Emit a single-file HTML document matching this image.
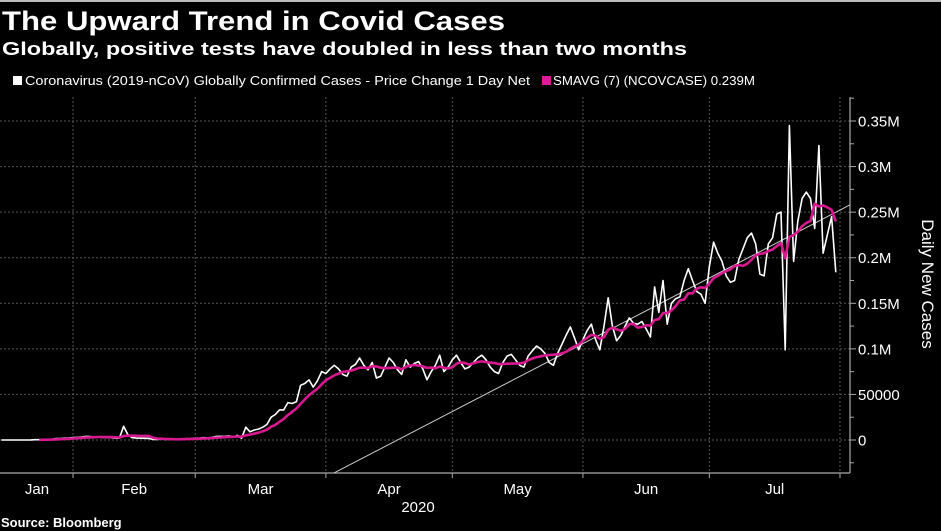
<!DOCTYPE html>
<html><head><meta charset="utf-8"><style>
html,body{margin:0;padding:0;background:#000;}
svg{display:block;font-family:"Liberation Sans","DejaVu Sans",sans-serif;}
</style></head><body>
<svg id="chart" width="941" height="531" viewBox="0 0 941 531">
<rect x="0" y="0" width="941" height="531" fill="#000"/>
<rect x="0" y="0" width="941" height="2" fill="#bbb"/>
<text x="2" y="30" fill="#fff" font-size="27" font-weight="bold" textLength="503" lengthAdjust="spacingAndGlyphs">The Upward Trend in Covid Cases</text>
<text x="2" y="55" fill="#fff" font-size="18" font-weight="bold" textLength="685" lengthAdjust="spacingAndGlyphs">Globally, positive tests have doubled in less than two months</text>
<g>
<rect x="13" y="76" width="9" height="9" fill="#fff"/>
<text x="25" y="85" fill="#fff" font-size="12.5" textLength="505" lengthAdjust="spacingAndGlyphs">Coronavirus (2019-nCoV) Globally Confirmed Cases - Price Change 1 Day Net</text>
<rect x="542" y="76" width="9" height="9" fill="#e0189a"/>
<text x="553" y="85" fill="#fff" font-size="12.5" textLength="202" lengthAdjust="spacingAndGlyphs">SMAVG (7) (NCOVCASE) 0.239M</text>
</g>
<g id="grid"></g>
<g id="axes"></g>
<g id="series"></g>
<text x="1" y="527" fill="#fff" font-size="13" font-weight="bold">Source: Bloomberg</text>
</svg>
<script>
// data: daily new cases (thousands), starting at day index 14 (Jan 14, 2020; Jan 1 = day 0)
const startDay = 14;
const dailyCases = [
0,0,0,0,0,0,0,
0.1,0.3,0.3,0.7,0.7,0.8,1.5,1.7,2,2.1,
2.6,2.8,3.2,3.9,3.7,3.2,3.4,2.7,3,2.5,2,2.1,15,6,2.6,2.1,2,1.9,1.8,0.5,0.6,1,0.6,0.9,0.8,0.9,1.2,1.4,1.7,
2,2,2.5,2.3,2.8,4,3.9,4,4.5,3,5,2,14,9,11,12,14,17,25,28,33,33,41,40,42,60,62,66,58,65,75,
73,78,82,78,72,70,80,83,90,82,77,85,68,70,80,90,85,77,72,88,80,84,86,78,66,75,82,93,75,80,
88,93,85,78,80,85,90,93,88,80,75,73,85,92,94,88,82,80,92,98,103,100,95,85,82,95,105,115,124,112,99,
110,120,127,110,99,125,156,125,109,115,125,134,128,127,130,122,113,168,140,175,127,150,155,157,175,188,175,163,160,150,
190,217,205,196,180,173,175,198,210,222,227,215,182,180,215,222,248,250,99,345,196,240,265,272,265,232,323,205,225,245,184
];
const trendDays = [93, 215.4];
const trendValues = [-36, 258];
const monthNames = ["Jan","Feb","Mar","Apr","May","Jun","Jul"];
const monthStarts = [0,31,60,91,121,152,182,213];
const yTicks = [0,50,100,150,200,250,300,350];
const yTickLabels = ["0","50000","0.1M","0.15M","0.2M","0.25M","0.3M","0.35M"];

const NS = "http://www.w3.org/2000/svg";
const plotTop = 97, plotBottom = 473, plotRight = 850;
const xScale = d => -57.6 + 4.214 * d;
const yScale = v => 440 - v * (319 / 350);
function mk(tag, attrs, parent) {
  const e = document.createElementNS(NS, tag);
  for (const k in attrs) e.setAttribute(k, attrs[k]);
  parent.appendChild(e);
  return e;
}
const grid = document.getElementById('grid');
const axes = document.getElementById('axes');
const series = document.getElementById('series');

yTicks.forEach((v, i) => {
  const y = yScale(v);
  const gl = mk('line', {x1:0, x2:plotRight, y1:y, y2:y, stroke:'#555', 'stroke-width':1, 'stroke-dasharray':'2,2'}, grid);
  
  
  const tk = mk('line', {x1:plotRight, x2:plotRight+6, y1:y, y2:y, stroke:'#aaa', 'stroke-width':1}, axes);
  
  
  const mt = mk('line', {x1:plotRight, x2:plotRight+4, y1:yScale(v+25), y2:yScale(v+25), stroke:'#aaa', 'stroke-width':1}, axes);
  
  
  const t = mk('text', {x:plotRight+8, y:y+5.5, fill:'#fff', 'font-size':15}, axes);
  t.textContent = yTickLabels[i];
  
  
});
const mt0 = mk('line', {x1:plotRight, x2:plotRight+4, y1:yScale(-25), y2:yScale(-25), stroke:'#aaa'}, axes);



monthStarts.forEach((d, i) => {
  const x = xScale(d);
  if (i > 0) {
    const gl = mk('line', {x1:x, x2:x, y1:plotTop, y2:plotBottom, stroke:'#555', 'stroke-width':1, 'stroke-dasharray':'2,2'}, grid);
    
    
    const tk = mk('line', {x1:x, x2:x, y1:plotBottom, y2:plotBottom+5, stroke:'#aaa'}, axes);
    
    
  }
  if (i < monthNames.length) {
    const cx = Math.max(37, xScale((d + monthStarts[i+1]) / 2));
    const t = mk('text', {x:cx, y:494, fill:'#fff', 'font-size':15, 'text-anchor':'middle'}, axes);
    t.textContent = monthNames[i];
    
    
  }
});
const yr = mk('text', {x:418, y:512, fill:'#fff', 'font-size':15, 'text-anchor':'middle'}, axes);
yr.textContent = '2020';



const xa = mk('line', {x1:0, x2:plotRight, y1:plotBottom, y2:plotBottom, stroke:'#aaa', 'stroke-width':1.2}, axes);


const ya = mk('line', {x1:plotRight, x2:plotRight, y1:plotTop, y2:plotBottom, stroke:'#aaa', 'stroke-width':1.2}, axes);


const yt = mk('text', {x:0, y:0, fill:'#fff', 'font-size':17, 'text-anchor':'middle', transform:'translate(922,284) rotate(90)'}, axes);
yt.textContent = 'Daily New Cases';



// trend line
const tl = mk('line', {x1:xScale(trendDays[0]), y1:yScale(trendValues[0]), x2:xScale(trendDays[1]), y2:yScale(trendValues[1]), stroke:'#ccc', 'stroke-width':1}, series);



// daily line
const dpts = dailyCases.map((v, i) => xScale(startDay + i).toFixed(1) + ',' + yScale(v).toFixed(1)).join(' ');
const dl = mk('polyline', {points:dpts, fill:'none', stroke:'#fff', 'stroke-width':1.6, 'stroke-linejoin':'round'}, series);



// 7-day SMA
const smaPts = [];
for (let i = 9; i < dailyCases.length; i++) {
  const w = dailyCases.slice(Math.max(0, i - 6), i + 1);
  const avg = w.reduce((a, b) => a + b, 0) / w.length;
  smaPts.push(xScale(startDay + i).toFixed(1) + ',' + yScale(avg).toFixed(1));
}
const sl = mk('polyline', {points:smaPts.join(' '), fill:'none', stroke:'#d8198f', 'stroke-width':2.6, 'stroke-linejoin':'round'}, series);


</script>
</body></html>
